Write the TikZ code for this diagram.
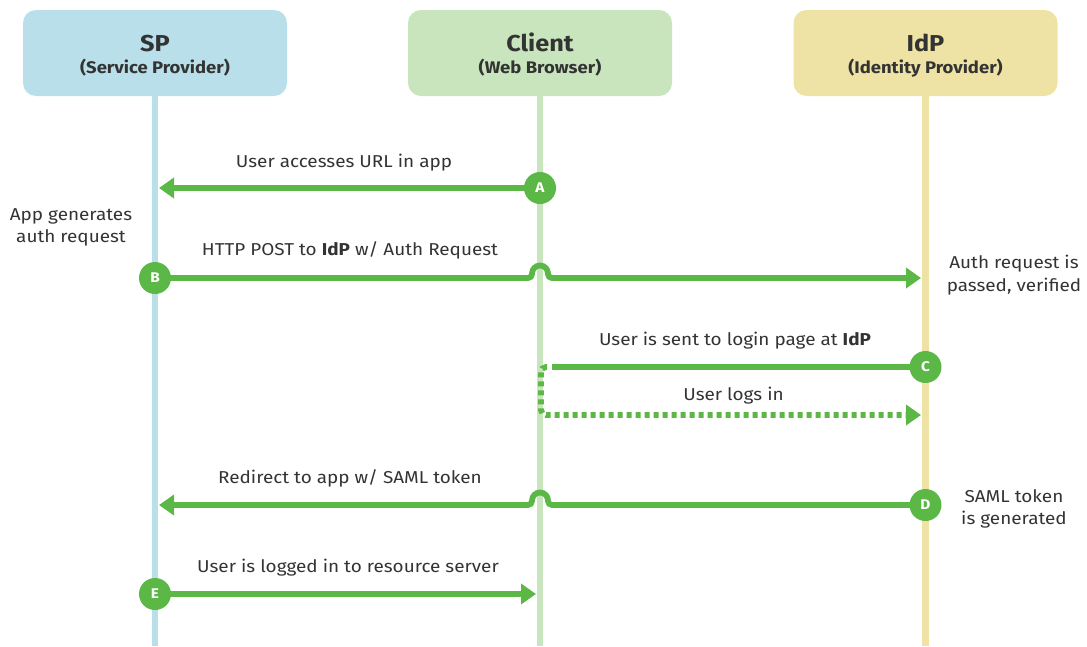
\documentclass[tikz,border=0pt]{standalone}
\usepackage{fontspec}
\setmainfont{Fira Sans}[FakeStretch=1.1]
\usetikzlibrary{arrows.meta,calc}
\definecolor{spblue}{HTML}{B9E0EA}
\definecolor{clgreen}{HTML}{C8E5BD}
\definecolor{idpyellow}{HTML}{EEE3A4}
\definecolor{flow}{HTML}{5CB846}
\definecolor{ink}{HTML}{333333}
\begin{document}
\begin{tikzpicture}[x=1pt,y=-1pt,
  actor/.style={rounded corners=13pt, minimum width=264pt, minimum height=86pt, inner sep=0pt},
  lifeline/.style={line width=6.7pt},
  plainmsg/.style={draw=flow, line width=5.8pt},
  msg/.style={plainmsg, -{Triangle[length=15pt,width=20pt]}},
  dotmsg/.style={msg, dash pattern=on 5pt off 4pt},
  stepdot/.style={circle, fill=flow, minimum size=32pt, inner sep=0pt, text=white,
    font=\bfseries\fontsize{14}{14}\selectfont},
  title/.style={text=ink, anchor=base, inner sep=0pt, font=\bfseries\fontsize{23}{26}\selectfont},
  subtitle/.style={text=ink, anchor=base, inner sep=0pt, font=\bfseries\fontsize{16.8}{19}\selectfont},
  lbl/.style={text=ink, anchor=base, inner sep=0pt, font=\fontsize{17.2}{20}\selectfont}
]
\useasboundingbox (0,0) rectangle (1087,646);

% actor boxes
\node[actor, fill=spblue]    (sp)  at (155,53)   {};
\node[actor, fill=clgreen]   (cl)  at (540,53)   {};
\node[actor, fill=idpyellow] (idp) at (925.5,53) {};

% lifelines
\coordinate (sp-end)  at (155,646);
\coordinate (cl-end)  at (540,646);
\coordinate (idp-end) at (925.5,646);
\draw[lifeline, spblue]    (sp.south)  -- (sp-end);
\draw[lifeline, clgreen]   (cl.south)  -- (cl-end);
\draw[lifeline, idpyellow] (idp.south) -- (idp-end);

% titles
\node[title]    (sp-t)  at (155,51)   {SP};
\node[subtitle] (sp-s)  at (155,73)   {(Service Provider)};
\node[title]    (cl-t)  at (540,51)   {Client};
\node[subtitle] (cl-s)  at (540,73)   {(Web Browser)};
\node[title]    (idp-t) at (925.5,51) {IdP};
\node[subtitle] (idp-s) at (925.5,73) {(Identity Provider)};

% arrow end points
\coordinate (pa) at (540,188);
\coordinate (pb) at (155,278);
\coordinate (pc) at (925.5,367);
\coordinate (pd) at (925.5,505);
\coordinate (pe) at (155,594);
\coordinate (a-end) at (159,188);
\coordinate (b-end) at (921,278);
\coordinate (c-end) at (552,367);
\coordinate (login-start) at (547,367);
\coordinate (login-end) at (921,415);
\coordinate (d-end) at (159,505);
\coordinate (e-end) at (536,594);
\coordinate (hop-b) at (528,278);
\coordinate (hop-d) at (552,505);

% messages
\draw[msg] (pa) -- (a-end);
% B hops over the client lifeline
\draw[msg] (pb) -- (hop-b)
  arc[start angle=90, end angle=0, radius=4] -- ++(0,-0.5)
  arc[start angle=180, end angle=360, radius=8] -- ++(0,0.5)
  arc[start angle=180, end angle=90, radius=4] -- (b-end);
\draw[plainmsg] (pc) -- (c-end);
\draw[dotmsg, rounded corners=5pt] (login-start) -- (541,367) -- (541,415) -- (login-end);
% D hops over the client lifeline
\draw[msg] (pd) -- (hop-d)
  arc[start angle=90, end angle=180, radius=4] -- ++(0,-0.5)
  arc[start angle=0, end angle=-180, radius=8] -- ++(0,0.5)
  arc[start angle=0, end angle=90, radius=4] -- (d-end);
\draw[msg] (pe) -- (e-end);

% step markers
\node[stepdot] (a) at (pa) {A};
\node[stepdot] (b) at (pb) {B};
\node[stepdot] (c) at (pc) {C};
\node[stepdot] (d) at (pd) {D};
\node[stepdot] (e) at (pe) {E};

% message labels
\node[lbl] (la) at (344,167) {User accesses URL in app};
\node[lbl] (lb) at (350,255) {HTTP POST to \textbf{IdP} w/ Auth Request};
\node[lbl] (lc) at (735,345) {User is sent to login page at \textbf{IdP}};
\node[lbl] (ll) at (733.5,400) {User logs in};
\node[lbl] (ld) at (350,483) {Redirect to app w/ SAML token};
\node[lbl] (le) at (348,572) {User is logged in to resource server};

% side notes
\node[lbl] (n1a) at (71,220)   {App generates};
\node[lbl] (n1b) at (71,242)   {auth request};
\node[lbl] (n2a) at (1014,268) {Auth request is};
\node[lbl] (n2b) at (1014,291) {passed, verified};
\node[lbl] (n3a) at (1014,502) {SAML token};
\node[lbl] (n3b) at (1014,524) {is generated};
\end{tikzpicture}
\end{document}
